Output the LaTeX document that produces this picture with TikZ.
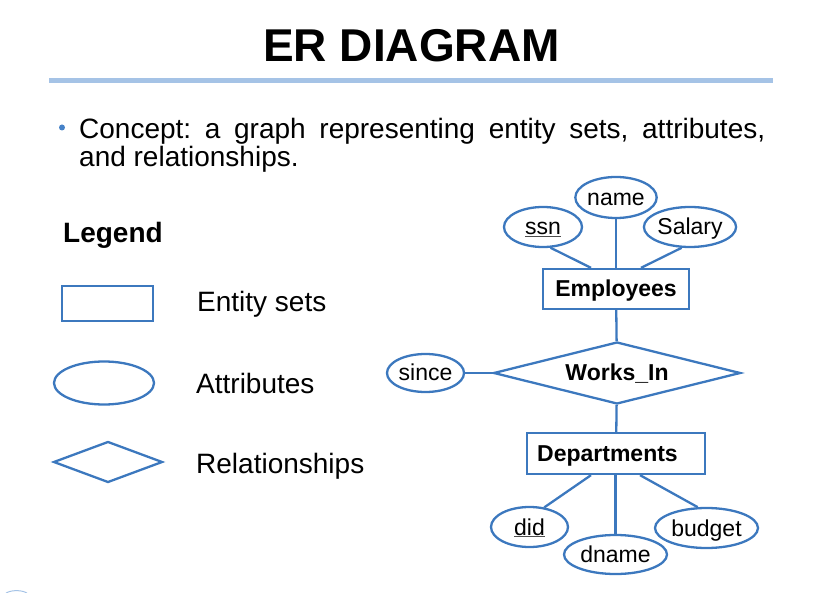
\documentclass[tikz,border=0pt]{standalone}
\usepackage{fontspec}
\setmainfont{Liberation Sans}
\usetikzlibrary{shapes.geometric}
\definecolor{erblue}{RGB}{60,120,190}
\definecolor{rulblue}{RGB}{165,195,230}
\definecolor{bulblue}{RGB}{70,130,200}
\newcommand{\gline}[1]{\textcolor{black!70}{\underline{\textcolor{black}{#1}}}}
\frenchspacing
\begin{document}
\begin{tikzpicture}[x=1pt,y=-1pt,
  shp/.style={draw=erblue, line width=2.3pt, inner sep=0pt, text height=16pt, text depth=0pt, font=\fontsize{23}{27}\selectfont},
  ent/.style={shp, rectangle, font=\fontsize{23}{27}\selectfont\bfseries},
  attr/.style={shp, ellipse},
  rel/.style={shp, diamond, aspect=4, font=\fontsize{23}{27}\selectfont\bfseries},
  conn/.style={draw=erblue, line width=2.3pt},
  lbl/.style={anchor=base west, inner sep=0pt, font=\fontsize{28}{33}\selectfont}]
\path[use as bounding box] (0,0) rectangle (835,593);
% title and rule
\node[anchor=base, inner sep=0pt, font=\fontsize{46}{54}\selectfont\bfseries] (title) at (411.5,62) {ER DIAGRAM};
\draw[rulblue, line width=5pt] (49,80.5) -- (773,80.5);
% bullet text
\fill[bulblue] (62,127.5) circle (3);
\node[lbl] (line1) at (79,138.5) {\makebox[686pt][s]{Concept: a graph representing entity sets, attributes,}};
\node[lbl] (line2) at (79,166.5) {and relationships.};
% legend
\node[lbl, font=\fontsize{28}{33}\selectfont\bfseries] (legend) at (63,243) {Legend};
\node[ent, minimum width=91pt, minimum height=35pt] (lrect) at (107.5,303.5) {};
\node[attr, minimum width=100pt, minimum height=43pt] (lell) at (104,383) {};
\node[rel, minimum width=109pt, minimum height=41pt] (ldia) at (108,462) {};
\node[lbl] (tent) at (197,312) {Entity sets};
\node[lbl] (tattr) at (196,393) {Attributes};
\node[lbl] (trel) at (196,473) {Relationships};
% ER diagram
\node[ent, minimum width=146pt, minimum height=40pt] (emp) at (616,289) {Employees};
\node[attr, minimum width=78pt, minimum height=41pt] (name) at (616,197.5) {name};
\node[attr, minimum width=78pt, minimum height=40pt] (ssn) at (543,227) {\gline{ssn}};
\node[attr, minimum width=90pt, minimum height=40pt] (sal) at (690,227) {Salary};
\node[rel, minimum width=247pt, minimum height=62pt] (works) at (617,373) {Works\_In};
\node[attr, minimum width=77pt, minimum height=38pt] (since) at (425.5,373) {since};
\node[ent, minimum width=178pt, minimum height=41pt] (dept) at (616,453.5) {Departments\kern17pt};
\node[attr, minimum width=77pt, minimum height=40pt] (did) at (529.5,527) {\gline{did}};
\node[attr, minimum width=103pt, minimum height=39pt] (dname) at (615.5,554.5) {dname};
\node[attr, minimum width=103pt, minimum height=40pt] (budget) at (706.5,528) {budget};
% connectors
\draw[conn] (ssn.290) -- ([xshift=-25pt]emp.north);
\draw[conn] (name) -- (emp);
\draw[conn] (sal.248) -- ([xshift=25pt]emp.north);
\draw[conn] (emp) -- (works);
\draw[conn] (since) -- (works);
\draw[conn] (works) -- (dept);
\draw[conn] (did.53) -- ([xshift=-25pt]dept.south);
\draw[conn] (dname.north) -- (dname.north |- dept.south);
\draw[conn] (budget.113) -- ([xshift=24pt]dept.south);
% corner artifact
\draw[rulblue, line width=1pt] (5,594) .. controls (9,589.5) and (24,589.5) .. (28,594);
\end{tikzpicture}
\end{document}
